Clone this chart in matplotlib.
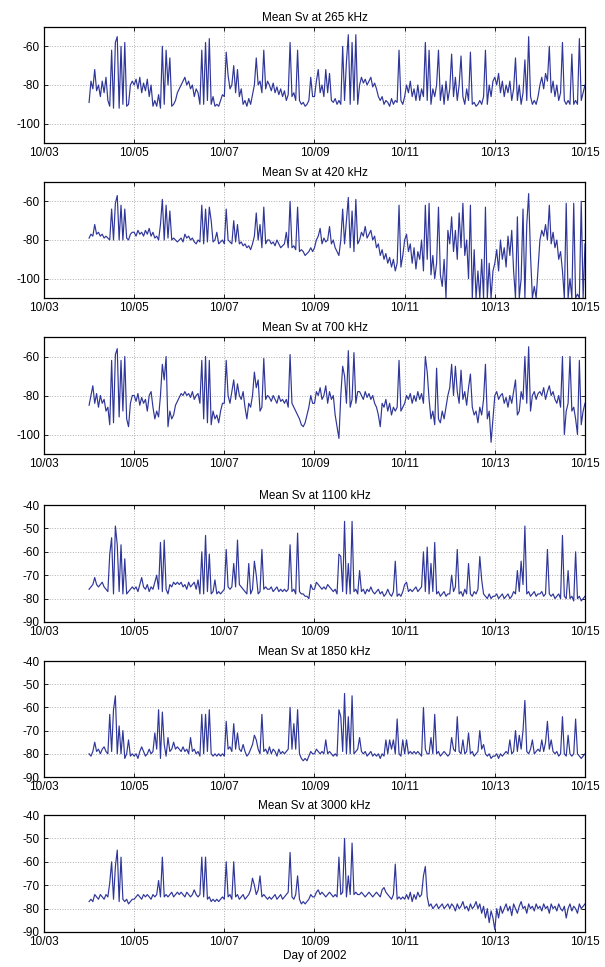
import numpy as np
import matplotlib.pyplot as plt

plt.rcParams['font.family'] = ['Liberation Sans', 'DejaVu Sans']
plt.rcParams['font.size'] = 8.5
plt.rcParams['axes.unicode_minus'] = False

# hourly samples, day of October 2002 (10/04 00:00 .. 10/15 00:00)
t = np.arange(4 * 24, 15 * 24 + 1) / 24.0

freqs = [265, 420, 700, 1100, 1850, 3000]
xtick_days = [3, 5, 7, 9, 11, 13, 15]
xtick_labels = ['10/03', '10/05', '10/07', '10/09', '10/11', '10/13', '10/15']

sv_265 = [
    -89, -78, -82, -72, -83, -80, -86, -78, -84, -76, -88, -91, -62, -92, -58, -55, -92, -60, -90, -58, -91, -90, -80, -78,
    -80, -77, -82, -76, -84, -79, -83, -77, -86, -80, -91, -88, -91, -85, -92, -60, -90, -62, -80, -66, -91, -90, -88, -84,
    -82, -80, -78, -76, -80, -78, -82, -80, -86, -82, -84, -90, -62, -90, -58, -88, -56, -90, -86, -91, -90, -91, -88, -85,
    -86, -63, -75, -82, -80, -70, -84, -72, -86, -82, -90, -88, -91, -87, -90, -85, -80, -66, -80, -78, -84, -62, -82, -78,
    -80, -83, -79, -84, -81, -85, -82, -86, -83, -88, -85, -58, -86, -84, -88, -62, -88, -90, -89, -91, -90, -88, -76, -86,
    -86, -78, -72, -84, -80, -86, -72, -84, -74, -88, -89, -87, -90, -88, -90, -60, -88, -68, -54, -90, -58, -88, -54, -90,
    -80, -76, -79, -77, -80, -78, -76, -81, -79, -82, -86, -88, -86, -90, -88, -89, -91, -87, -90, -88, -89, -62, -88, -90,
    -86, -80, -84, -78, -86, -82, -88, -80, -88, -82, -86, -58, -88, -62, -90, -82, -86, -80, -62, -88, -80, -90, -78, -88,
    -82, -64, -86, -76, -88, -80, -65, -86, -90, -82, -88, -63, -90, -89, -91, -90, -88, -90, -86, -62, -90, -80, -86, -78,
    -76, -80, -74, -84, -78, -86, -80, -84, -78, -88, -82, -66, -88, -80, -90, -84, -67, -88, -55, -86, -90, -88, -90, -86,
    -80, -76, -82, -74, -78, -60, -84, -78, -86, -80, -88, -84, -58, -88, -90, -88, -90, -64, -90, -88, -90, -56, -88, -84,
    -80,
]

sv_420 = [
    -79, -77, -78, -72, -77, -76, -78, -77, -79, -78, -79, -80, -64, -80, -61, -57, -80, -62, -80, -64, -79, -80, -77, -76,
    -76, -78, -75, -77, -76, -78, -75, -77, -74, -78, -76, -79, -78, -80, -72, -59, -80, -62, -79, -65, -80, -79, -80, -81,
    -80, -79, -81, -77, -79, -78, -80, -79, -81, -82, -80, -81, -62, -82, -64, -81, -63, -70, -81, -80, -76, -82, -81, -80,
    -82, -64, -80, -81, -82, -70, -81, -72, -82, -81, -83, -82, -84, -83, -85, -82, -78, -66, -80, -72, -84, -63, -82, -80,
    -80, -82, -81, -83, -80, -82, -84, -83, -82, -76, -84, -60, -84, -83, -85, -63, -86, -85, -86, -88, -87, -86, -84, -86,
    -84, -80, -78, -74, -82, -79, -81, -80, -73, -82, -80, -84, -86, -88, -80, -64, -82, -70, -58, -84, -65, -86, -59, -82,
    -80, -76, -78, -73, -79, -77, -75, -80, -78, -84, -82, -88, -85, -90, -87, -92, -89, -94, -90, -96, -92, -62, -94, -88,
    -80, -77, -86, -82, -92, -84, -95, -86, -90, -80, -96, -62, -90, -61, -98, -88, -100, -92, -63, -98, -104, -90, -110, -75,
    -82, -68, -86, -75, -90, -66, -84, -61, -88, -80, -100, -62, -110, -85, -110, -96, -110, -90, -110, -63, -110, -92, -110, -96,
    -92, -85, -96, -80, -90, -84, -94, -78, -88, -75, -96, -110, -68, -110, -100, -64, -110, -72, -56, -88, -110, -104, -110, -95,
    -80, -75, -78, -72, -80, -62, -82, -76, -84, -80, -90, -86, -96, -110, -61, -110, -100, -110, -61, -110, -108, -110, -60, -110,
    -82,
]

sv_700 = [
    -85, -80, -75, -84, -79, -86, -80, -84, -82, -88, -86, -95, -62, -94, -59, -56, -91, -62, -88, -60, -92, -96, -84, -80,
    -80, -83, -79, -85, -81, -84, -82, -88, -80, -78, -86, -92, -88, -91, -80, -64, -72, -60, -96, -88, -92, -90, -85, -83,
    -81, -79, -80, -78, -80, -79, -81, -78, -82, -80, -79, -84, -62, -92, -60, -94, -62, -95, -88, -92, -90, -94, -88, -84,
    -84, -62, -80, -84, -78, -72, -82, -74, -80, -82, -78, -86, -92, -84, -86, -80, -68, -76, -72, -88, -86, -61, -82, -80,
    -81, -83, -80, -82, -84, -80, -83, -82, -84, -82, -86, -59, -84, -86, -88, -90, -92, -95, -96, -94, -90, -86, -80, -84,
    -84, -78, -80, -76, -82, -80, -75, -84, -78, -82, -80, -90, -96, -102, -80, -65, -70, -84, -57, -86, -82, -58, -84, -78,
    -78, -80, -82, -78, -81, -79, -82, -80, -84, -86, -90, -96, -84, -86, -82, -88, -84, -90, -86, -88, -86, -62, -88, -86,
    -84, -80, -82, -79, -84, -80, -83, -78, -82, -79, -84, -60, -68, -82, -92, -88, -95, -66, -92, -94, -88, -92, -86, -80,
    -76, -64, -80, -65, -78, -84, -67, -82, -78, -85, -76, -69, -86, -90, -88, -94, -86, -90, -82, -64, -92, -88, -104, -92,
    -80, -78, -82, -80, -79, -84, -81, -86, -80, -84, -78, -72, -90, -88, -78, -82, -60, -84, -55, -88, -80, -78, -82, -79,
    -78, -80, -76, -82, -78, -75, -80, -78, -82, -84, -80, -86, -60, -100, -88, -84, -60, -88, -86, -92, -100, -62, -95, -88,
    -84,
]

sv_1100 = [
    -76, -75, -74, -71, -74, -75, -74, -73, -75, -76, -77, -61, -54, -78, -49, -57, -77, -57, -78, -63, -78, -77, -76, -75,
    -76, -75, -77, -74, -71, -75, -76, -74, -77, -75, -76, -73, -70, -76, -56, -77, -55, -76, -78, -74, -75, -73, -74, -73,
    -74, -73, -75, -74, -76, -73, -75, -74, -73, -76, -72, -78, -60, -78, -53, -77, -61, -78, -77, -72, -78, -77, -78, -77,
    -76, -59, -75, -76, -75, -65, -75, -55, -74, -75, -76, -77, -78, -65, -78, -76, -64, -70, -78, -77, -59, -76, -75, -76,
    -76, -75, -77, -76, -75, -77, -76, -77, -76, -77, -76, -57, -77, -76, -78, -52, -77, -78, -78, -79, -79, -80, -74, -76,
    -76, -73, -74, -75, -76, -75, -76, -74, -75, -76, -77, -76, -78, -61, -62, -77, -47, -78, -65, -78, -47, -77, -76, -78,
    -68, -77, -76, -78, -76, -77, -75, -77, -78, -77, -76, -78, -77, -79, -78, -76, -78, -79, -77, -64, -79, -78, -79, -77,
    -74, -73, -77, -76, -77, -76, -75, -77, -76, -75, -60, -77, -58, -78, -65, -77, -56, -78, -77, -79, -78, -77, -79, -78,
    -78, -70, -77, -75, -59, -78, -77, -79, -76, -78, -65, -78, -79, -77, -78, -76, -62, -72, -78, -79, -80, -78, -80, -79,
    -79, -78, -80, -79, -78, -80, -79, -78, -80, -79, -77, -78, -68, -77, -64, -74, -49, -78, -77, -79, -78, -77, -79, -78,
    -78, -77, -79, -78, -59, -78, -79, -78, -80, -79, -78, -80, -53, -79, -80, -68, -80, -79, -81, -60, -80, -79, -81, -80,
    -79,
]

sv_1850 = [
    -80, -81, -79, -75, -79, -78, -80, -78, -77, -79, -80, -63, -79, -61, -55, -80, -68, -80, -70, -82, -80, -74, -81, -80,
    -81, -80, -82, -79, -77, -79, -81, -80, -78, -80, -79, -71, -78, -61, -82, -62, -76, -81, -73, -79, -78, -75, -78, -77,
    -78, -79, -77, -79, -78, -80, -73, -79, -78, -80, -79, -81, -63, -80, -63, -79, -61, -80, -81, -80, -81, -80, -81, -80,
    -81, -66, -78, -77, -79, -67, -78, -71, -78, -79, -76, -79, -81, -80, -78, -76, -72, -74, -78, -80, -63, -79, -78, -80,
    -77, -80, -78, -79, -81, -78, -80, -79, -80, -79, -78, -60, -78, -67, -78, -61, -80, -82, -83, -82, -83, -81, -79, -80,
    -80, -78, -79, -80, -79, -80, -74, -80, -79, -80, -81, -80, -81, -61, -64, -79, -54, -80, -64, -80, -55, -80, -79, -78,
    -73, -79, -80, -79, -81, -80, -79, -81, -80, -81, -80, -82, -80, -81, -74, -80, -74, -78, -74, -80, -65, -80, -81, -74,
    -80, -74, -80, -79, -80, -79, -80, -79, -80, -81, -60, -78, -80, -80, -73, -80, -63, -80, -79, -81, -80, -79, -80, -81,
    -80, -73, -78, -79, -64, -79, -80, -74, -80, -79, -71, -80, -79, -81, -80, -79, -70, -78, -76, -80, -81, -80, -82, -81,
    -81, -80, -82, -80, -81, -80, -79, -80, -74, -80, -79, -70, -79, -72, -78, -70, -57, -79, -80, -78, -74, -80, -79, -78,
    -79, -74, -79, -75, -66, -78, -74, -79, -80, -79, -81, -80, -64, -80, -81, -72, -80, -81, -80, -65, -80, -81, -82, -81,
    -80,
]

sv_3000 = [
    -77, -76, -77, -74, -75, -76, -74, -75, -76, -74, -75, -69, -60, -76, -62, -55, -77, -58, -76, -77, -76, -78, -77, -76,
    -76, -75, -74, -75, -76, -74, -75, -74, -75, -76, -74, -75, -74, -68, -75, -58, -75, -74, -75, -74, -73, -75, -74, -73,
    -74, -73, -74, -75, -73, -74, -75, -74, -72, -74, -75, -74, -58, -75, -58, -76, -75, -77, -76, -77, -76, -77, -76, -75,
    -76, -60, -75, -74, -76, -60, -75, -74, -76, -75, -74, -76, -75, -74, -72, -67, -70, -74, -72, -66, -75, -74, -75, -76,
    -75, -76, -75, -74, -76, -75, -74, -76, -75, -74, -73, -56, -75, -76, -74, -66, -76, -78, -77, -78, -77, -76, -74, -75,
    -75, -73, -72, -74, -73, -74, -75, -74, -73, -74, -75, -74, -75, -58, -74, -73, -50, -75, -66, -74, -52, -74, -73, -74,
    -74, -73, -74, -75, -74, -73, -74, -75, -74, -73, -74, -75, -72, -71, -73, -74, -75, -76, -74, -61, -76, -75, -76, -75,
    -76, -74, -76, -73, -77, -74, -76, -73, -75, -74, -66, -62, -75, -79, -78, -80, -79, -78, -80, -79, -78, -80, -79, -78,
    -80, -78, -79, -81, -78, -80, -79, -77, -80, -79, -81, -78, -80, -79, -77, -80, -78, -82, -79, -84, -80, -86, -81, -84,
    -89, -80, -84, -79, -82, -80, -78, -81, -79, -83, -78, -80, -82, -79, -77, -80, -79, -82, -78, -80, -79, -81, -78, -80,
    -79, -81, -78, -80, -79, -82, -78, -80, -79, -81, -78, -80, -81, -79, -84, -80, -78, -81, -79, -80, -82, -78, -80, -79,
    -78,
]

series = [sv_265, sv_420, sv_700, sv_1100, sv_1850, sv_3000]
ylims = [(-110, -50)] * 3 + [(-90, -40)] * 3
yticks = [[-100, -80, -60]] * 3 + [[-90, -80, -70, -60, -50, -40]] * 3
# axes top / bottom in pixels
panel_px = [(27, 143), (182, 298), (337, 454), (505, 622), (661, 777), (815, 932)]

W, H = 605, 967
fig = plt.figure(figsize=(W / 100, H / 100), dpi=100)

for i, (f, vals) in enumerate(zip(freqs, series)):
    top, bot = panel_px[i]
    ax = fig.add_axes([44 / W, 1 - bot / H, 541 / W, (bot - top) / H])
    ax.plot(t, vals, color='#2f3699', lw=0.85)
    ax.set_xlim(3, 15)
    ax.set_ylim(*ylims[i])
    ax.set_xticks(xtick_days)
    ax.set_xticklabels(xtick_labels)
    ax.set_yticks(yticks[i])
    ax.grid(True, color='#b0b0b0', linestyle=':', linewidth=0.7)
    ax.tick_params(direction='in', length=3, width=0.6, top=True, right=True,
                   labelsize=8.5, pad=3)
    for s in ax.spines.values():
        s.set_linewidth(0.9)
    ax.set_title(f'Mean Sv at {f} kHz', fontsize=8.5, pad=4)
    if i == len(freqs) - 1:
        ax.set_xlabel('Day of 2002', fontsize=8.5, labelpad=1)

fig.savefig('out.png', dpi=100)
